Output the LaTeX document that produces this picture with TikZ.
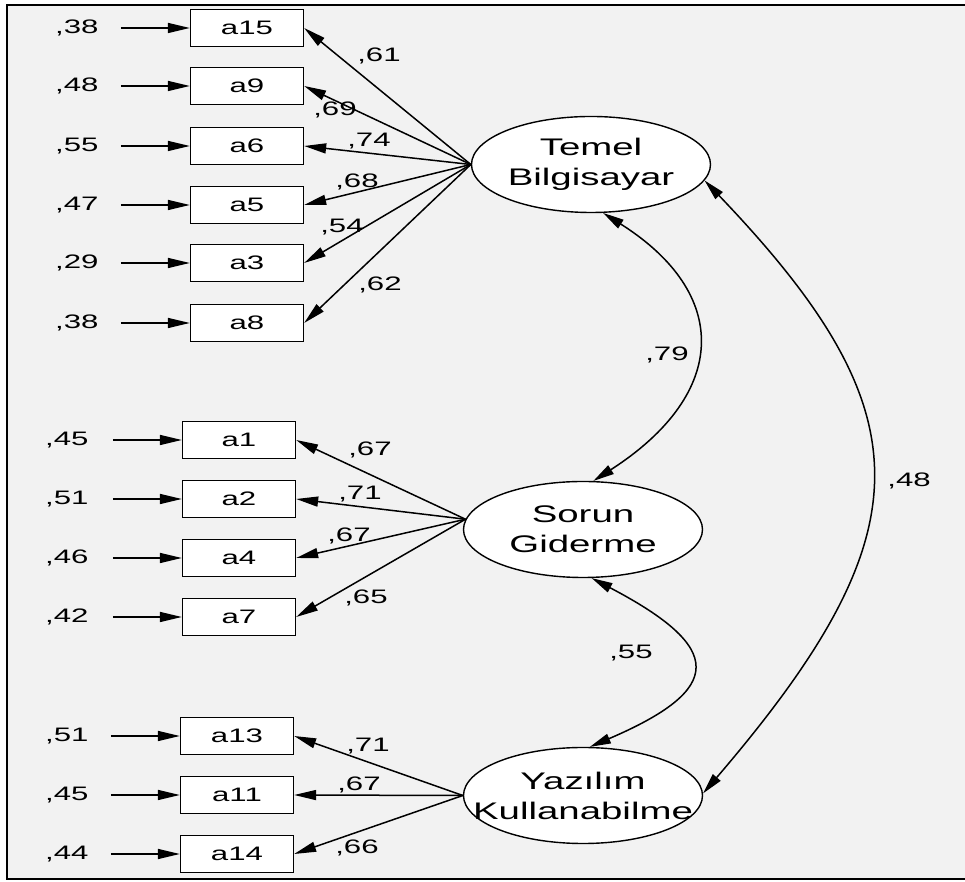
\documentclass[tikz,border=0pt]{standalone}
\usepackage{fontspec}
\usetikzlibrary{arrows.meta,shapes.geometric}
\newfontfamily\arialx[FakeStretch=1.6]{Liberation Sans}
\definecolor{bggray}{HTML}{F2F2F2}
\newcommand{\zl}[1]{\makebox[0pt]{#1}}
\tikzset{
  obsbox/.style={draw, line width=1.3pt, fill=white, minimum width=113pt, minimum height=37pt, inner sep=0pt,
    font=\arialx\fontsize{19.5}{23}\selectfont},
  latent/.style={ellipse, draw, line width=1.4pt, fill=white, minimum width=239pt, minimum height=96pt, inner sep=0pt,
    align=center, font=\arialx\fontsize{24}{30}\selectfont},
  val/.style={inner sep=0pt, font=\arialx\fontsize{19.5}{23}\selectfont},
  conn/.style={line width=1.5pt, -{Triangle[length=22pt,width=10pt]}},
  cov/.style={line width=1.5pt, {Triangle[length=21pt,width=10pt]}-{Triangle[length=21pt,width=10pt]}}
}
\begin{document}
\begin{tikzpicture}[x=1pt,y=1pt]
\useasboundingbox (0,0) rectangle (965,882);
\fill[bggray] (7,3) rectangle (965,877);
\draw[line width=2.4pt] (965,877) -- (7,877) -- (7,3) -- (965,3);

% latent variables
\node[latent] (TB) at (591,717.5) {\zl{Temel}\\\zl{Bilgisayar}};
\node[latent] (SG) at (583,352.5) {\zl{Sorun}\\\zl{Giderme}};
\node[latent] (YK) at (583,86.5) {\zl{Yaz\i l\i m}\\\zl{Kullanabilme}};

% group 1
\node[obsbox] (a15) at (247,854) {a15};
\node[obsbox] (a9)  at (247,796) {a9};
\node[obsbox] (a6)  at (247,736) {a6};
\node[obsbox] (a5)  at (247,677) {a5};
\node[obsbox] (a3)  at (247,619) {a3};
\node[obsbox] (a8)  at (247,559) {a8};
% group 2
\node[obsbox] (a1) at (239,442) {a1};
\node[obsbox] (a2) at (239,383) {a2};
\node[obsbox] (a4) at (239,324) {a4};
\node[obsbox] (a7) at (239,265) {a7};
% group 3
\node[obsbox] (a13) at (237,146) {a13};
\node[obsbox] (a11) at (237,87) {a11};
\node[obsbox] (a14) at (237,28) {a14};

% error labels
\foreach \n/\v/\y in {15/38/854, 9/48/796, 6/55/736, 5/47/677, 3/29/619, 8/38/559}{
  \node[val, anchor=west] (e\n) at (55,\y) {,\v};
  \draw[conn] ([xshift=22pt]e\n.east) -- (a\n.west);
}
\foreach \n/\v/\y in {1/45/442, 2/51/383, 4/46/324, 7/42/265}{
  \node[val, anchor=west] (e\n) at (45,\y) {,\v};
  \draw[conn] ([xshift=24pt]e\n.east) -- (a\n.west);
}
\foreach \n/\v/\y in {13/51/146, 11/45/87, 14/44/28}{
  \node[val, anchor=west] (e\n) at (45,\y) {,\v};
  \draw[conn] ([xshift=22pt]e\n.east) -- (a\n.west);
}

% loadings
\foreach \n in {15,9,6,5,3,8}{ \draw[conn] (TB.west) -- (a\n.east); }
\foreach \n in {1,2,4,7}{ \draw[conn] (SG.175) -- (a\n.east); }
\foreach \n in {13,11,14}{ \draw[conn] (YK.west) -- (a\n.east); }

\node[val] (l15) at (379,826) {,61};
\node[val] (l9)  at (335,772) {,69};
\node[val] (l6)  at (369,741) {,74};
\node[val] (l5)  at (357,700) {,68};
\node[val] (l3)  at (342,655) {,54};
\node[val] (l8)  at (380,597) {,62};
\node[val] (l1)  at (370,432) {,67};
\node[val] (l2)  at (360,388) {,71};
\node[val] (l4)  at (349,346) {,67};
\node[val] (l7)  at (366,284) {,65};
\node[val] (l13) at (368,136) {,71};
\node[val] (l11) at (359,97) {,67};
\node[val] (l14) at (357,34) {,66};

% covariances
\draw[cov] (TB.-76) .. controls (730,589) and (730,489) .. (SG.78);
\draw[cov] (SG.-80) .. controls (725,234) and (725,193) .. (YK.82);
\draw[cov] (TB.-8) .. controls (927,469) and (927,350) .. (YK.1);
\node[val] (c1) at (667,527) {,79};
\node[val] (c2) at (631,229) {,55};
\node[val] (c3) at (909,401) {,48};
\end{tikzpicture}
\end{document}
